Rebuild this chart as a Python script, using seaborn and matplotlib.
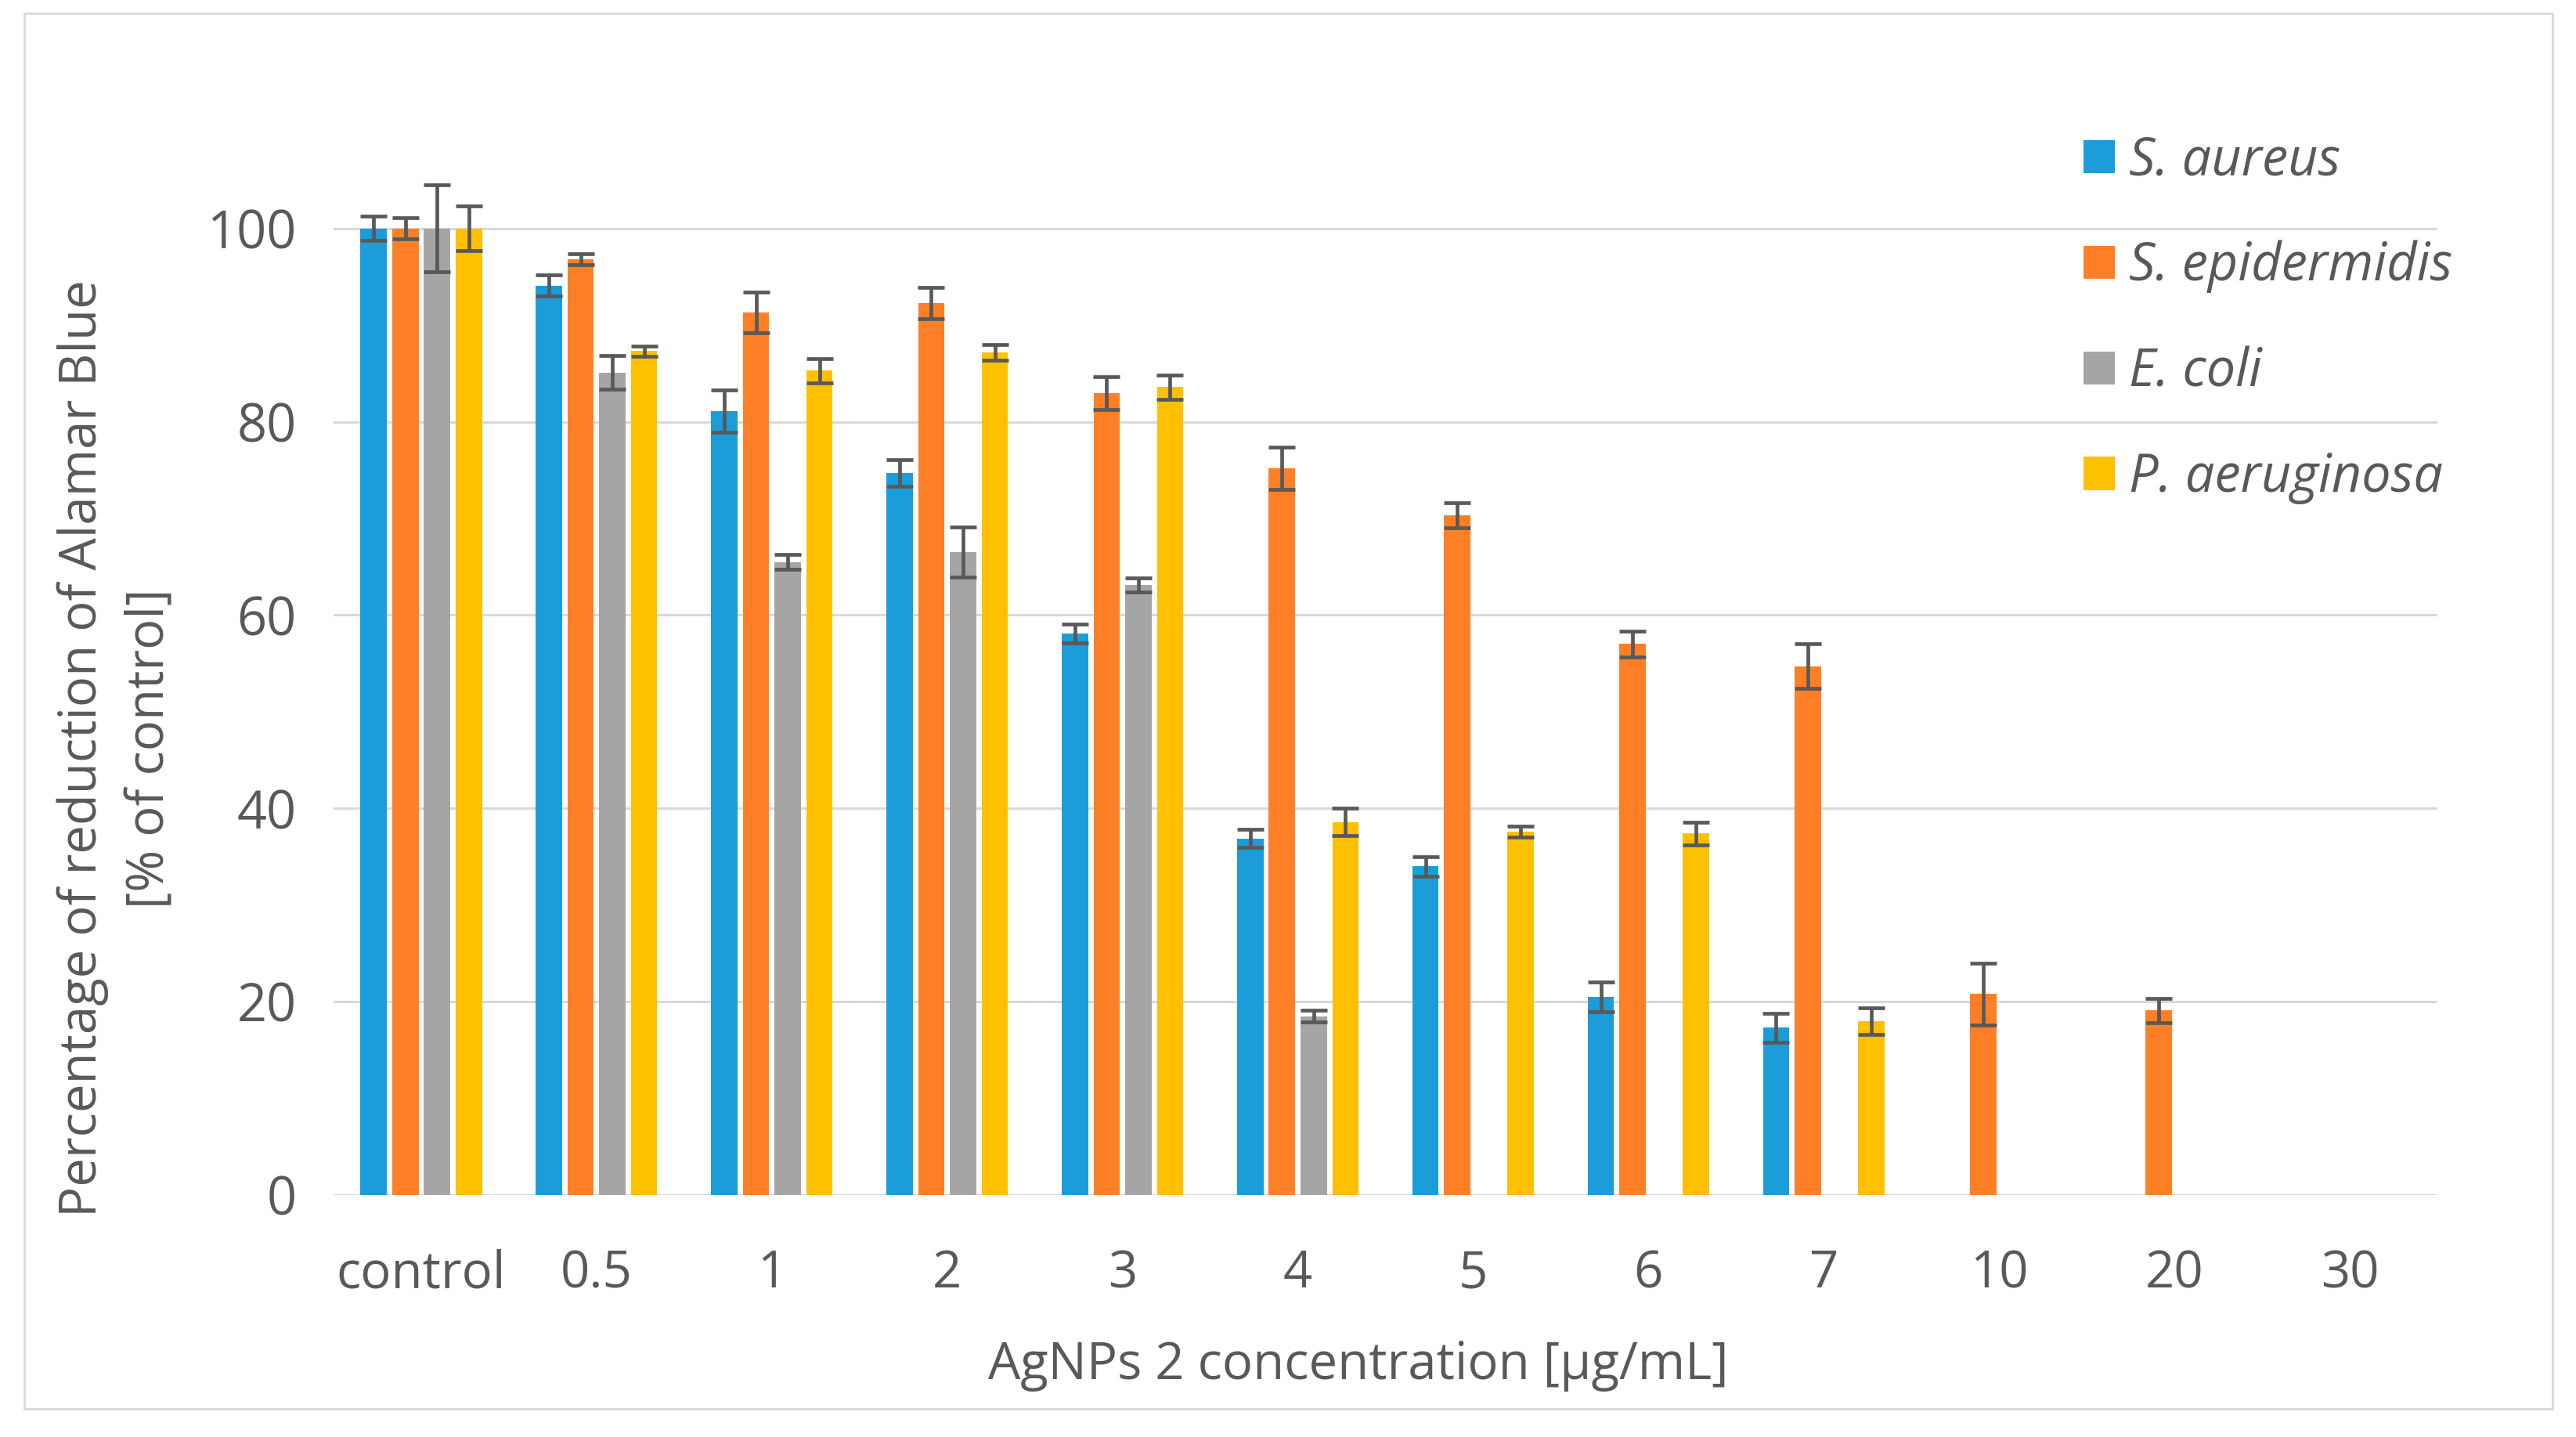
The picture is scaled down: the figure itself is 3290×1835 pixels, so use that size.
import numpy as np
import pandas as pd
import seaborn as sns
import matplotlib
matplotlib.use('Agg')
import matplotlib.pyplot as plt
from matplotlib.patches import Patch, Rectangle

concentracoes = ["control", "0.5", "1", "2", "3", "4", "5", "6", "7", "10", "20", "30"]
especies = ["S. aureus", "S. epidermidis", "E. coli", "P. aeruginosa"]
cores = ["#1A9DD9", "#FF7F27", "#A5A5A5", "#FFC000"]

s_aureus = [100, 94.1, 81.1, 74.7, 58.1, 36.9, 34.0, 20.5, 17.3, 0, 0, 0]
s_aureus_err = [1.25, 1.1, 2.2, 1.4, 0.95, 0.9, 1.0, 1.55, 1.5, 0, 0, 0]
s_epidermidis = [100, 96.8, 91.3, 92.3, 83.0, 75.2, 70.3, 57.0, 54.7, 20.8, 19.1, 0]
s_epidermidis_err = [1.1, 0.55, 2.1, 1.6, 1.7, 2.2, 1.3, 1.3, 2.3, 3.2, 1.25, 0]
e_coli = [100, 85.1, 65.5, 66.5, 63.1, 18.5, 0, 0, 0, 0, 0, 0]
e_coli_err = [4.5, 1.75, 0.8, 2.6, 0.72, 0.6, 0, 0, 0, 0, 0, 0]
p_aeruginosa = [100, 87.3, 85.3, 87.2, 83.6, 38.6, 37.6, 37.4, 18.0, 0, 0, 0]
p_aeruginosa_err = [2.3, 0.52, 1.25, 0.8, 1.25, 1.4, 0.6, 1.2, 1.4, 0, 0, 0]

valores = [s_aureus, s_epidermidis, e_coli, p_aeruginosa]
erros = [s_aureus_err, s_epidermidis_err, e_coli_err, p_aeruginosa_err]

linhas = []
for esp, vals, errs in zip(especies, valores, erros):
    for conc, v, e in zip(concentracoes, vals, errs):
        linhas.append({"conc": conc, "especie": esp, "valor": v, "erro": e})
dados = pd.DataFrame(linhas)

sns.set_theme(style="whitegrid")
plt.rcParams['font.family'] = ['Open Sans', 'DejaVu Sans']
cinza_texto = "#595959"

fig = plt.figure(figsize=(32.91, 18.35), dpi=100)
ax = fig.add_axes([426 / 3291, 309 / 1835, 2687 / 3291, 1333 / 1835])

sns.barplot(data=dados, x="conc", y="valor", hue="especie", order=concentracoes,
            hue_order=especies, palette=cores, errorbar=None, width=0.724, gap=0.17,
            saturation=1, linewidth=0, legend=False, ax=ax)

# barras de erro por cima das barras do seaborn
for cont, errs in zip(ax.containers, erros):
    for barra, e in zip(cont, errs):
        h = barra.get_height()
        if h <= 0:
            continue
        xc = barra.get_x() + barra.get_width() / 2
        ax.errorbar(xc, h, yerr=e, color="#595959", elinewidth=3.4, capsize=12,
                    capthick=3.4, clip_on=False, zorder=5)

ax.set_xlim(-0.5, len(concentracoes) - 0.5)
ax.set_ylim(0, 108)
ax.set_yticks([0, 20, 40, 60, 80, 100])
ax.grid(axis="y", color="#D9D9D9", linewidth=2.2)
ax.grid(axis="x", visible=False)
ax.set_axisbelow(True)
for s in ax.spines.values():
    s.set_visible(False)
ax.tick_params(axis="x", labelsize=47, colors=cinza_texto, pad=49, length=0)
ax.tick_params(axis="y", labelsize=48, colors=cinza_texto, pad=34, length=0)

ax.set_xlabel("AgNPs 2 concentration [µg/mL]", fontsize=47, color=cinza_texto)
ax.xaxis.set_label_coords(0.487, -0.139)
ax.set_ylabel("Percentage of reduction of Alamar Blue\n[% of control]", fontsize=47,
              color=cinza_texto, linespacing=1.39)
ax.yaxis.set_label_coords(-0.075, 0.428)

handles = [Patch(facecolor=c, edgecolor="none") for c in cores]
leg = fig.legend(handles, especies, loc="upper left",
                 bbox_to_anchor=(2661 / 3291, 1 - 172 / 1835), frameon=False,
                 fontsize=48, handlelength=0.6, handleheight=0.6,
                 handletextpad=0.27, labelspacing=1.01, borderpad=0, borderaxespad=0)
for t in leg.get_texts():
    t.set_color(cinza_texto)
    t.set_fontstyle("italic")

fig.patches.append(Rectangle((31 / 3291, 1 - 1799 / 1835), (3260 - 31) / 3291,
                             (1799 - 17) / 1835, transform=fig.transFigure,
                             fill=False, edgecolor="#D9D9D9", linewidth=2))

fig.savefig("out.png", dpi=100)
